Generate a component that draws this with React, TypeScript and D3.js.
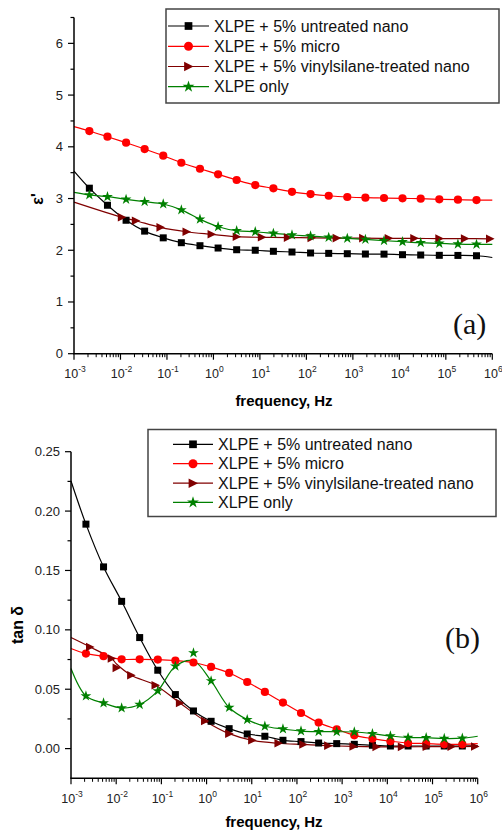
import React from 'react';
import * as d3 from 'd3';

// ---------- DATA ----------
const SERIES_NAMES = [
  'XLPE + 5% untreated nano',
  'XLPE + 5% micro',
  'XLPE + 5% vinylsilane-treated nano',
  'XLPE only',
];
const SERIES_COLORS = ['#000000', '#ff0000', '#800000', '#008000'];
const SERIES_MARKERS = ['square', 'circle', 'triangle', 'star'];

const X_TICK_EXPONENTS = [-3, -2, -1, 0, 1, 2, 3, 4, 5, 6];
const EPS_TICKS = [0, 1, 2, 3, 4, 5, 6];
const TAN_TICKS = [0.0, 0.05, 0.1, 0.15, 0.2, 0.25];

// frequencies (Hz) of markers for square / circle / star series
const FREQ = [0.00214, 0.00525, 0.0132, 0.0331, 0.0832, 0.204, 0.513, 1.26, 3.16, 7.94, 19.5, 49, 123, 302, 759, 1860, 4680, 11700, 28800, 72400, 182000, 457000];

// (a) permittivity
const EPS_UNTREATED = [3.2, 2.87, 2.58, 2.37, 2.24, 2.146, 2.088, 2.043, 2.01, 2.0, 1.98, 1.966, 1.947, 1.94, 1.933, 1.927, 1.925, 1.914, 1.908, 1.902, 1.9, 1.894];
const EPS_MICRO = [4.305, 4.195, 4.079, 3.957, 3.828, 3.692, 3.576, 3.468, 3.358, 3.26, 3.197, 3.13, 3.087, 3.054, 3.03, 3.016, 3.01, 3.004, 2.997, 2.985, 2.977, 2.971];
const EPS_ONLY = [3.07, 3.035, 2.985, 2.94, 2.894, 2.78, 2.6, 2.455, 2.378, 2.358, 2.327, 2.295, 2.275, 2.25, 2.23, 2.21, 2.185, 2.165, 2.146, 2.134, 2.12, 2.115];
const FREQ_VINYL_A = [0.0107, 0.0214, 0.0724, 0.263, 0.912, 3.16, 11.0, 39.8, 129, 447, 1660, 5890, 20900, 72400, 257000, 891000];
const EPS_VINYL = [2.637, 2.571, 2.443, 2.358, 2.308, 2.262, 2.25, 2.245, 2.24, 2.235, 2.235, 2.23, 2.23, 2.225, 2.225, 2.22];
// fitted-line values at 1e-3 Hz and 1e6 Hz (legend order)
const EPS_LINE_START = [3.53, 4.39, 2.93, 3.12];
const EPS_LINE_END = [1.86, 2.97, 2.22, 2.115];

// (b) loss tangent
const TAN_UNTREATED = [0.189, 0.153, 0.124, 0.0935, 0.066, 0.0455, 0.0317, 0.023, 0.0168, 0.0123, 0.0104, 0.007, 0.0059, 0.0047, 0.0042, 0.0036, 0.0028, 0.0022, 0.0022, 0.0022, 0.0022, 0.0022];
const TAN_MICRO = [0.08, 0.0778, 0.0752, 0.0752, 0.075, 0.0742, 0.0725, 0.0688, 0.0637, 0.0561, 0.0477, 0.0388, 0.03, 0.0219, 0.0163, 0.0112, 0.0084, 0.0062, 0.0047, 0.0042, 0.0036, 0.0036];
const TAN_ONLY = [0.0443, 0.0384, 0.0342, 0.0371, 0.0486, 0.0694, 0.0806, 0.057, 0.0346, 0.0244, 0.0188, 0.0165, 0.0148, 0.0143, 0.0142, 0.014, 0.0126, 0.0106, 0.0093, 0.0092, 0.0085, 0.0088];
const TAN_ONLY_FIT = [0.0443, 0.0384, 0.0342, 0.0371, 0.0486, 0.0694, 0.0738, 0.057, 0.0346, 0.0244, 0.0188, 0.0165, 0.0148, 0.0143, 0.0142, 0.014, 0.0126, 0.0106, 0.0093, 0.0092, 0.0085, 0.0088];
const FREQ_VINYL_B = [0.00263, 0.00794, 0.0102, 0.0214, 0.0741, 0.257, 0.923, 3.16, 10.2, 38.9, 138, 490, 1780, 5750, 20900, 74100, 263000, 871000];
const TAN_VINYL = [0.0856, 0.0759, 0.068, 0.0618, 0.0534, 0.0384, 0.0233, 0.0126, 0.007, 0.0045, 0.0035, 0.0025, 0.0018, 0.0015, 0.0015, 0.0016, 0.0017, 0.0018];
const TAN_VINYL_FIT = [0.0856, 0.0759, 0.0712, 0.0618, 0.0534, 0.0384, 0.0233, 0.0126, 0.007, 0.0045, 0.0035, 0.0025, 0.0018, 0.0015, 0.0015, 0.0016, 0.0017, 0.0018];
const TAN_LINE_START = [0.2253, 0.0843, 0.0935, 0.0674];
const TAN_LINE_END = [0.0025, 0.0042, 0.0018, 0.0104];

const F_MIN = 1e-3;
const F_MAX = 1e6;

const SANS = "'Liberation Sans', Arial, sans-serif";
const SERIF = "'Liberation Serif', 'Times New Roman', serif";

type Series = {
  freqs: number[];
  values: number[];
  fit: number[];
  start: number;
  end: number;
};

function Marker({ type, x, y, color, scale = 1 }: { type: string; x: number; y: number; color: string; scale?: number }) {
  if (type === 'square') {
    const s = 7 * scale;
    return <rect x={x - s / 2} y={y - s / 2} width={s} height={s} fill={color} />;
  }
  if (type === 'circle') {
    return <circle cx={x} cy={y} r={4.1 * scale} fill={color} />;
  }
  if (type === 'triangle') {
    const w = 4 * scale;
    return <path d={`M${x - w},${y - 4.3 * scale} L${x + 4.6 * scale},${y} L${x - w},${y + 4.3 * scale} Z`} fill={color} />;
  }
  const p = d3.symbol(d3.symbolStar, 36 * scale * scale)();
  return <path d={p || ''} transform={`translate(${x},${y})`} fill={color} />;
}

type PanelProps = {
  x0: number; x1: number; yTop: number; yBottom: number;
  yDomain: [number, number];
  yTicks: number[]; yMinor: number[];
  yFormat: (v: number) => string;
  series: Series[];
  yTitle: React.ReactNode;
  yTitleX: number; yTitleY: number;
  xTitleY: number; xTitleX: number;
  tickLabelY: number;
  tag: string; tagX: number; tagY: number;
  legend: { x: number; y: number; w: number; h: number; rowY: number[]; lineX0: number; lineX1: number; textX: number };
};

function Panel(p: PanelProps) {
  const xs = d3.scaleLog().domain([F_MIN, F_MAX]).range([p.x0, p.x1]);
  const ys = d3.scaleLinear().domain(p.yDomain).range([p.yBottom, p.yTop]);
  const minorX = xs.ticks().filter((t) => {
    const e = Math.log10(t);
    return Math.abs(e - Math.round(e)) > 1e-6;
  });
  const line = d3
    .line<[number, number]>()
    .x((d) => xs(d[0]))
    .y((d) => ys(d[1]))
    .curve(d3.curveCatmullRom.alpha(0.5));

  return (
    <g>
      {/* lines */}
      {p.series.map((s, i) => {
        const pts: [number, number][] = [[F_MIN, s.start], ...s.freqs.map((f, j) => [f, s.fit[j]] as [number, number])];
        if (s.freqs[s.freqs.length - 1] < F_MAX * 0.99) pts.push([F_MAX, s.end]);
        return <path key={'l' + i} d={line(pts) || ''} fill="none" stroke={SERIES_COLORS[i]} strokeWidth={1.2} />;
      })}
      {/* markers */}
      {p.series.map((s, i) => (
        <g key={'m' + i}>
          {s.freqs.map((f, j) => (
            <Marker key={j} type={SERIES_MARKERS[i]} x={xs(f)} y={ys(s.values[j])} color={SERIES_COLORS[i]} />
          ))}
        </g>
      ))}
      {/* axes */}
      <line x1={p.x0} x2={p.x0} y1={p.yTop} y2={p.yBottom} stroke="#000" strokeWidth={1.5} />
      <line x1={p.x0 - 0.75} x2={p.x1} y1={p.yBottom} y2={p.yBottom} stroke="#000" strokeWidth={1.5} />
      {p.yTicks.map((t) => (
        <g key={'yt' + t}>
          <line x1={p.x0 - 6} x2={p.x0} y1={ys(t)} y2={ys(t)} stroke="#000" strokeWidth={1.2} />
          <text x={p.x0 - 11} y={ys(t) + 4.5} textAnchor="end" fontFamily={SANS} fontSize={13} fill="#222">
            {p.yFormat(t)}
          </text>
        </g>
      ))}
      {p.yMinor.map((t) => (
        <line key={'ym' + t} x1={p.x0 - 3.5} x2={p.x0} y1={ys(t)} y2={ys(t)} stroke="#000" strokeWidth={1.2} />
      ))}
      {X_TICK_EXPONENTS.map((e) => (
        <g key={'xt' + e}>
          <line x1={xs(Math.pow(10, e))} x2={xs(Math.pow(10, e))} y1={p.yBottom} y2={p.yBottom + 6} stroke="#000" strokeWidth={1.2} />
          <text x={xs(Math.pow(10, e)) + 1} y={p.tickLabelY} textAnchor="middle" fontFamily={SANS} fontSize={12.5} fill="#222">
            <tspan>10</tspan>
            <tspan dy={-6} fontSize={8.5}>{String(e)}</tspan>
          </text>
        </g>
      ))}
      {minorX.map((t, k) => (
        <line key={'xm' + k} x1={xs(t)} x2={xs(t)} y1={p.yBottom} y2={p.yBottom + 3.5} stroke="#000" strokeWidth={1} />
      ))}
      {/* titles */}
      <text x={p.xTitleX} y={p.xTitleY} textAnchor="middle" fontFamily={SANS} fontWeight="bold" fontSize={15}>
        frequency, Hz
      </text>
      <text
        transform={`translate(${p.yTitleX},${p.yTitleY}) rotate(-90)`}
        textAnchor="middle"
        fontFamily={SANS}
        fontWeight="bold"
        fontSize={16}
      >
        {p.yTitle}
      </text>
      <text x={p.tagX} y={p.tagY} fontFamily={SERIF} fontSize={30} fill="#111">
        {p.tag}
      </text>
      {/* legend */}
      <rect x={p.legend.x} y={p.legend.y} width={p.legend.w} height={p.legend.h} fill="#fff" stroke="#444" strokeWidth={1.5} />
      {SERIES_NAMES.map((name, i) => {
        const y = p.legend.rowY[i];
        const mx = (p.legend.lineX0 + p.legend.lineX1) / 2;
        return (
          <g key={'lg' + i}>
            <line x1={p.legend.lineX0} x2={p.legend.lineX1} y1={y} y2={y} stroke={SERIES_COLORS[i]} strokeWidth={1.2} />
            <Marker type={SERIES_MARKERS[i]} x={mx} y={y} color={SERIES_COLORS[i]} scale={1.1} />
            <text x={p.legend.textX} y={y + 5.5} fontFamily={SANS} fontSize={16} fill="#111">
              {name}
            </text>
          </g>
        );
      })}
    </g>
  );
}

export default function App() {
  const epsSeries: Series[] = [
    { freqs: FREQ, values: EPS_UNTREATED, fit: EPS_UNTREATED, start: EPS_LINE_START[0], end: EPS_LINE_END[0] },
    { freqs: FREQ, values: EPS_MICRO, fit: EPS_MICRO, start: EPS_LINE_START[1], end: EPS_LINE_END[1] },
    { freqs: FREQ_VINYL_A, values: EPS_VINYL, fit: EPS_VINYL, start: EPS_LINE_START[2], end: EPS_LINE_END[2] },
    { freqs: FREQ, values: EPS_ONLY, fit: EPS_ONLY, start: EPS_LINE_START[3], end: EPS_LINE_END[3] },
  ];
  const tanSeries: Series[] = [
    { freqs: FREQ, values: TAN_UNTREATED, fit: TAN_UNTREATED, start: TAN_LINE_START[0], end: TAN_LINE_END[0] },
    { freqs: FREQ, values: TAN_MICRO, fit: TAN_MICRO, start: TAN_LINE_START[1], end: TAN_LINE_END[1] },
    { freqs: FREQ_VINYL_B, values: TAN_VINYL, fit: TAN_VINYL_FIT, start: TAN_LINE_START[2], end: TAN_LINE_END[2] },
    { freqs: FREQ, values: TAN_ONLY, fit: TAN_ONLY_FIT, start: TAN_LINE_START[3], end: TAN_LINE_END[3] },
  ];
  const epsMinor = [0.5, 1.5, 2.5, 3.5, 4.5, 5.5, 6.5];
  const tanMinor = [0.025, 0.075, 0.125, 0.175, 0.225];

  return (
    <svg
      width={502}
      height={831}
      style={{ position: 'absolute', left: 0, top: 0, background: '#fff' }}
    >
      <rect width={502} height={831} fill="#fff" />
      <Panel
        x0={74}
        x1={492.3}
        yTop={17.5}
        yBottom={353.7}
        yDomain={[0, 6.5]}
        yTicks={EPS_TICKS}
        yMinor={epsMinor}
        yFormat={(v) => String(v)}
        series={epsSeries}
        yTitle={"ε'"}
        yTitleX={43}
        yTitleY={199}
        xTitleX={284}
        xTitleY={406}
        tickLabelY={377.5}
        tag="(a)"
        tagX={453}
        tagY={334}
        legend={{ x: 166, y: 9, w: 333, h: 94, rowY: [26, 46.3, 66.5, 86.7], lineX0: 168, lineX1: 209, textX: 214 }}
      />
      <Panel
        x0={71}
        x1={477.7}
        yTop={451.7}
        yBottom={778.3}
        yDomain={[-0.025, 0.25]}
        yTicks={TAN_TICKS}
        yMinor={tanMinor}
        yFormat={(v) => v.toFixed(2)}
        series={tanSeries}
        yTitle={'tan δ'}
        yTitleX={23}
        yTitleY={625}
        xTitleX={274}
        xTitleY={827}
        tickLabelY={803}
        tag="(b)"
        tagX={445}
        tagY={648}
        legend={{ x: 148, y: 429.5, w: 348, h: 87, rowY: [444.3, 463.7, 483.2, 502.4], lineX0: 173, lineX1: 213, textX: 218 }}
      />
    </svg>
  );
}
